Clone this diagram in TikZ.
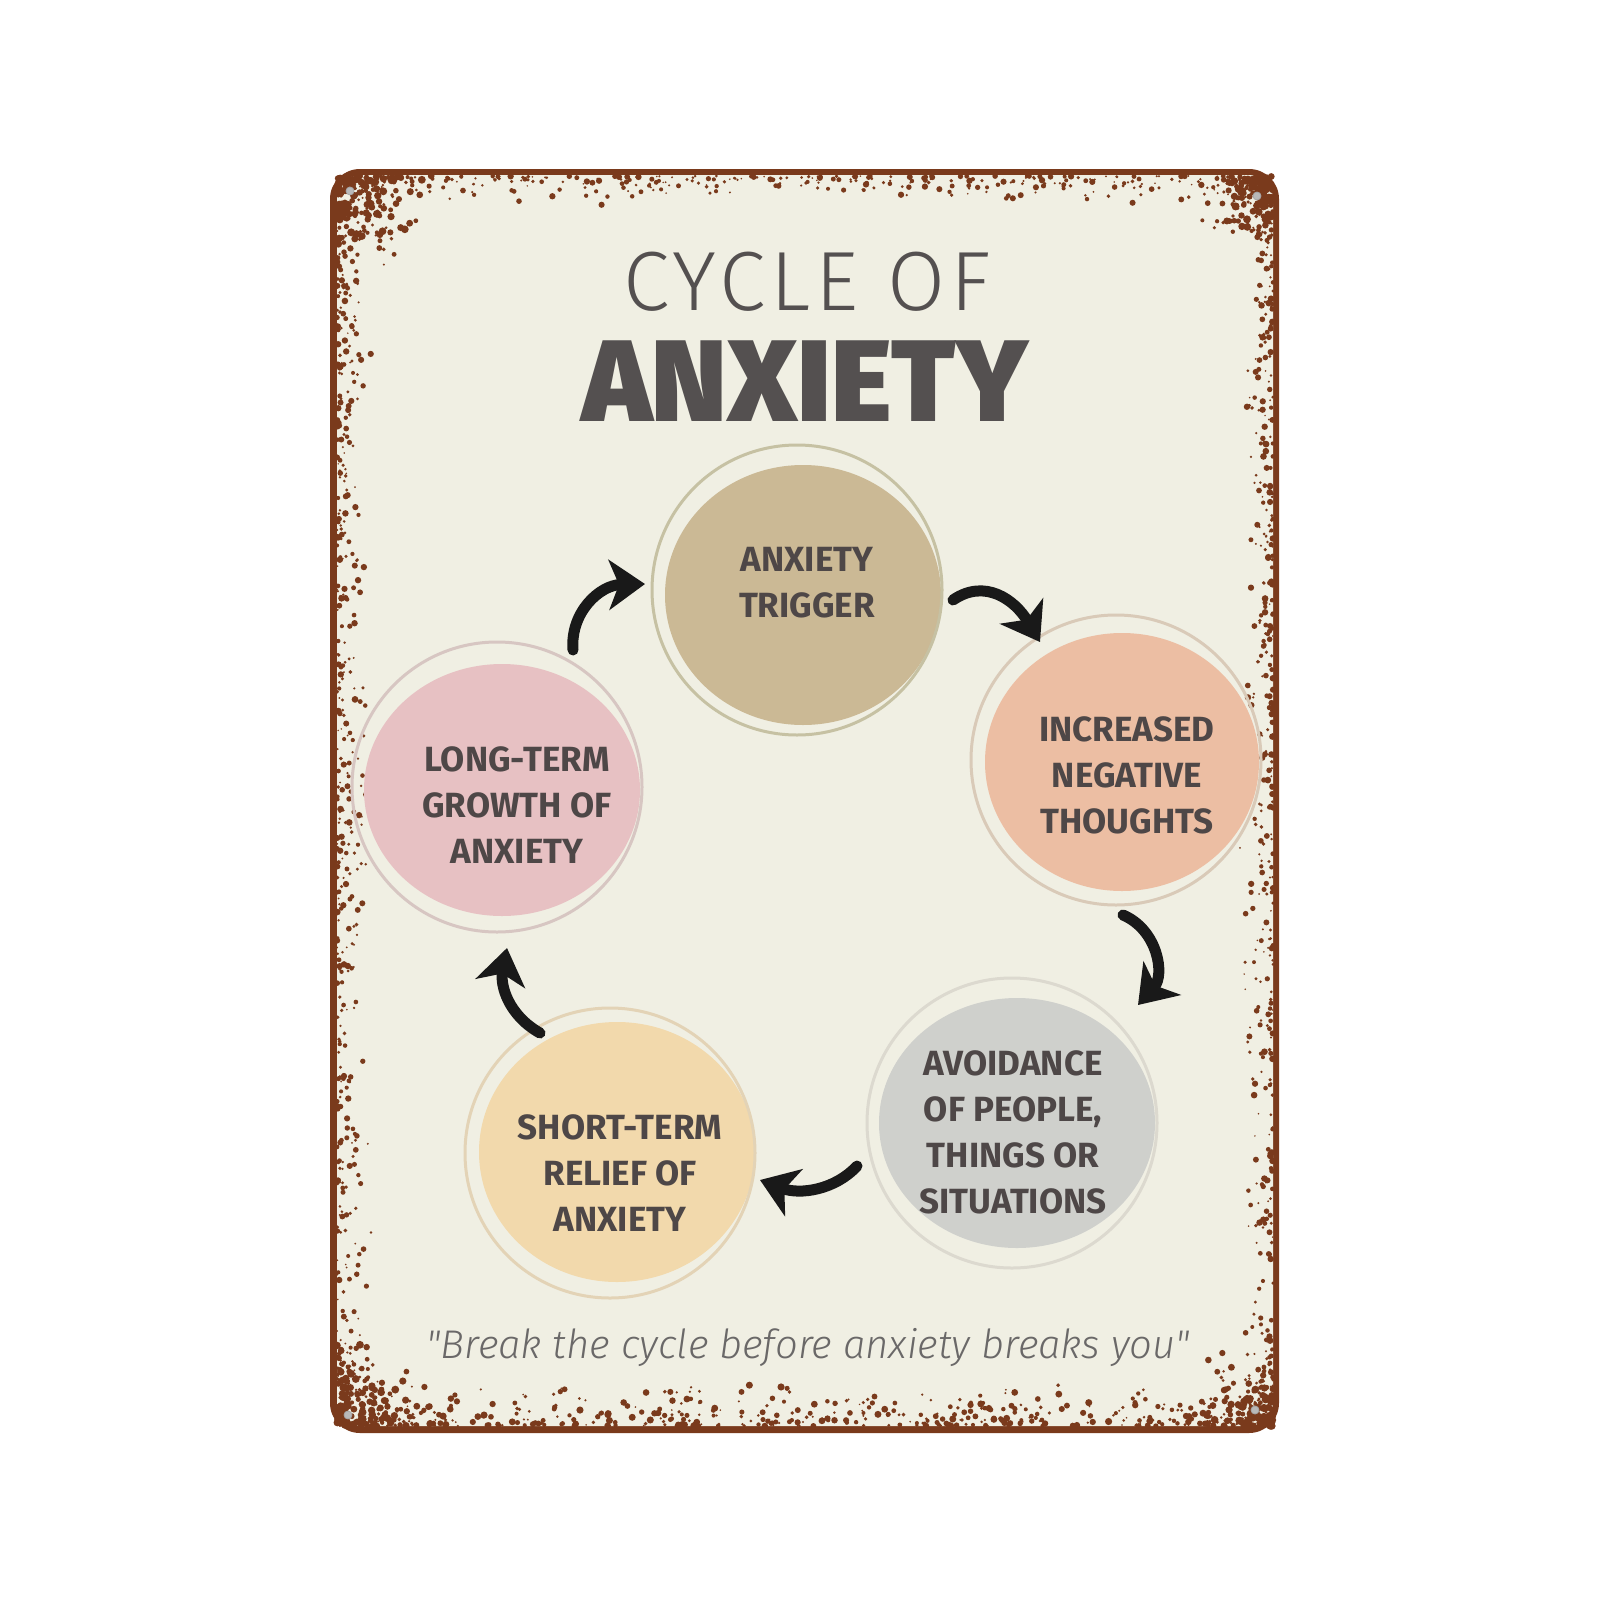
\documentclass[tikz,border=0pt]{standalone}
\usepackage{fontspec}
\setmainfont{Fira Sans}
\newfontfamily\lightfont{Fira Sans Light}
\newfontfamily\heavyfont{Fira Sans Black}
\usetikzlibrary{arrows.meta,shapes.geometric}
\definecolor{rust}{HTML}{7A3A1C}
\definecolor{cream}{HTML}{F0EFE3}
\definecolor{ink}{HTML}{4E4747}
\definecolor{titleink}{HTML}{545050}
\definecolor{quoteink}{HTML}{6A6868}
\definecolor{trigfill}{HTML}{CBB995}
\definecolor{trigring}{HTML}{C6C1A3}
\definecolor{incfill}{HTML}{ECBEA3}
\definecolor{incring}{HTML}{D9CAB8}
\definecolor{avofill}{HTML}{CFD0CC}
\definecolor{avoring}{HTML}{DCD9CF}
\definecolor{shofill}{HTML}{F2D9AC}
\definecolor{shoring}{HTML}{E3D3B6}
\definecolor{lonfill}{HTML}{E7C1C3}
\definecolor{lonring}{HTML}{D7C6C2}
\tikzset{
  blob/.style={ellipse, inner sep=0pt},
  ringc/.style={circle, draw, line width=1.5pt, inner sep=0pt, minimum size=145pt},
  lbl/.style={text=ink, align=center, font=\bfseries\fontsize{17.5}{23}\selectfont},
  arr/.style={line width=5.5pt, line cap=round, draw=black!90,
    -{Stealth[length=18pt,width=25pt,inset=5pt]}},
  hole/.style={circle, fill=gray!55, draw=gray!70, inner sep=0pt, minimum size=4pt}
}
\begin{document}
\begin{tikzpicture}[x=0.5pt,y=-0.5pt]
\useasboundingbox (0,0) rectangle (1600,1600);
\fill[white] (0,0) rectangle (1600,1600);
% sign
\fill[rust] (330,169) [rounded corners=15pt] rectangle (1279,1433);
\fill[cream] (337,175) [rounded corners=12pt] rectangle (1273,1426);
% rust speckles
\pgfmathsetseed{11}
\foreach \i in {1,...,320}{
  \pgfmathsetmacro{\px}{340+rnd*930}
  \pgfmathsetmacro{\py}{176+30*rnd*rnd}
  \pgfmathsetmacro{\pr}{0.8+2.4*rnd}
  \fill[rust] (\px,\py) circle (\pr);
}
\foreach \i in {1,...,450}{
  \pgfmathsetmacro{\px}{340+rnd*930}
  \pgfmathsetmacro{\py}{1426-45*rnd*rnd}
  \pgfmathsetmacro{\pr}{0.8+2.8*rnd}
  \fill[rust] (\px,\py) circle (\pr);
}
\foreach \i in {1,...,450}{
  \pgfmathsetmacro{\py}{176+rnd*1250}
  \pgfmathsetmacro{\px}{337+35*rnd*rnd}
  \pgfmathsetmacro{\pr}{0.8+2.6*rnd}
  \fill[rust] (\px,\py) circle (\pr);
}
\foreach \i in {1,...,420}{
  \pgfmathsetmacro{\py}{176+rnd*1250}
  \pgfmathsetmacro{\px}{1273-35*rnd*rnd}
  \pgfmathsetmacro{\pr}{0.8+2.6*rnd}
  \fill[rust] (\px,\py) circle (\pr);
}
% heavy corner rust
\foreach \i in {1,...,220}{
  \pgfmathsetmacro{\px}{337+100*rnd*rnd}
  \pgfmathsetmacro{\py}{176+90*rnd*rnd}
  \pgfmathsetmacro{\pr}{1+3*rnd}
  \fill[rust] (\px,\py) circle (\pr);
}
\foreach \i in {1,...,180}{
  \pgfmathsetmacro{\px}{1273-80*rnd*rnd}
  \pgfmathsetmacro{\py}{176+80*rnd*rnd}
  \pgfmathsetmacro{\pr}{1+3*rnd}
  \fill[rust] (\px,\py) circle (\pr);
}
\foreach \i in {1,...,200}{
  \pgfmathsetmacro{\px}{337+90*rnd*rnd}
  \pgfmathsetmacro{\py}{1426-90*rnd*rnd}
  \pgfmathsetmacro{\pr}{1+3*rnd}
  \fill[rust] (\px,\py) circle (\pr);
}
\foreach \i in {1,...,180}{
  \pgfmathsetmacro{\px}{1273-80*rnd*rnd}
  \pgfmathsetmacro{\py}{1426-80*rnd*rnd}
  \pgfmathsetmacro{\pr}{1+3*rnd}
  \fill[rust] (\px,\py) circle (\pr);
}
% mounting holes
\node[hole] (h1) at (350,191) {};
\node[hole] (h2) at (1257,196) {};
\node[hole] (h3) at (348,1415) {};
\node[hole] (h4) at (1255,1410) {};
% title
\node[text=titleink, font=\lightfont\addfontfeature{LetterSpace=6}\fontsize{42}{42}\selectfont] (t1) at (807,282) {CYCLE OF};
\node[text=titleink, font=\heavyfont\fontsize{58}{58}\selectfont] (t2) at (805,381) {ANXIETY};
% circles
\node[blob, fill=trigfill, minimum width=138pt, minimum height=130pt] (trigfill) at (803,595) {};
\node[ringc, draw=trigring] (trig) at (797,590) {};
\node[lbl] (trigtxt) at (807,583) {ANXIETY\\TRIGGER};

\node[blob, fill=incfill, minimum width=137pt, minimum height=129pt] (incfill) at (1122,762) {};
\node[ringc, draw=incring] (inc) at (1116,760) {};
\node[lbl] (inctxt) at (1127,775) {INCREASED\\NEGATIVE\\THOUGHTS};

\node[blob, fill=avofill, minimum width=138pt, minimum height=125pt] (avofill) at (1017,1123) {};
\node[ringc, draw=avoring] (avo) at (1012,1123) {};
\node[lbl] (avotxt) at (1013,1132) {AVOIDANCE\\OF PEOPLE,\\THINGS OR\\SITUATIONS};

\node[blob, fill=shofill, minimum width=138pt, minimum height=130pt] (shofill) at (617,1152) {};
\node[ringc, draw=shoring] (sho) at (610,1153) {};
\node[lbl] (shotxt) at (620,1173) {SHORT-TERM\\RELIEF OF\\ANXIETY};

\node[blob, fill=lonfill, minimum width=138pt, minimum height=126pt] (lonfill) at (502,790) {};
\node[ringc, draw=lonring] (lon) at (497,787) {};
\node[lbl] (lontxt) at (517,805) {LONG-TERM\\GROWTH OF\\ANXIETY};
% arrows
\coordinate (a1s) at (953,600);
\coordinate (a1e) at (1040,642);
\coordinate (a2s) at (1123,915);
\coordinate (a2e) at (1138,1005);
\coordinate (a3s) at (857,1166);
\coordinate (a3e) at (760,1180);
\coordinate (a4s) at (540,1033);
\coordinate (a4e) at (507,948);
\coordinate (a5s) at (573,650);
\coordinate (a5e) at (645,584);
\draw[arr] (a1s) .. controls (985,578) and (1015,600) .. (a1e);
\draw[arr] (a2s) .. controls (1158,930) and (1165,975) .. (a2e);
\draw[arr] (a3s) .. controls (835,1190) and (800,1195) .. (a3e);
\draw[arr] (a4s) .. controls (508,1015) and (500,985) .. (a4e);
\draw[arr] (a5s) .. controls (570,612) and (600,585) .. (a5e);
% quote
\node[text=quoteink, font=\lightfont\itshape\fontsize{20}{20}\selectfont] (quote) at (808,1348) {"Break the cycle before anxiety breaks you"};
\end{tikzpicture}
\end{document}
